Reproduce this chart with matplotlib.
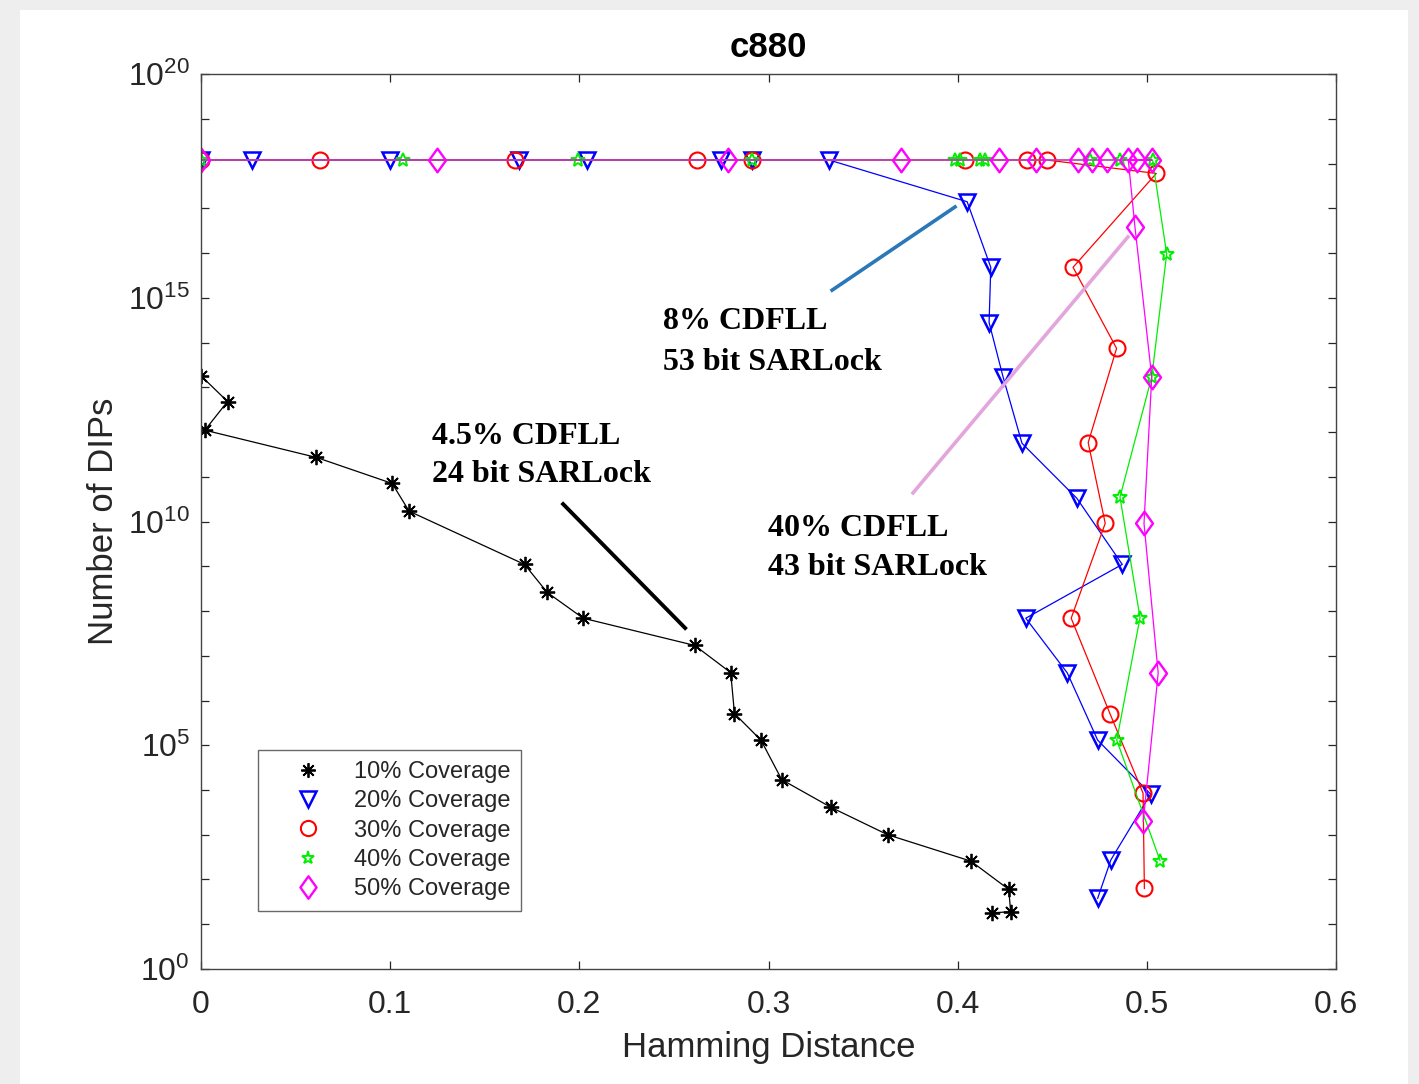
import matplotlib
matplotlib.use("Agg")
import matplotlib.pyplot as plt
from matplotlib.lines import Line2D
from matplotlib.patches import Rectangle
from matplotlib.path import Path

plt.rcParams['font.family'] = ['Liberation Sans', 'DejaVu Sans']
plt.rcParams['mathtext.default'] = 'regular'

# values (top row of each series sits at ~1.2e18)
x10 = [0.000, 0.014, 0.002, 0.061, 0.101, 0.110, 0.171, 0.183, 0.202, 0.261,
       0.280, 0.282, 0.296, 0.307, 0.333, 0.363, 0.407, 0.427, 0.428, 0.418]
y10 = [1.8e13, 4.8e12, 1.1e12, 2.7e11, 7.1e10, 1.7e10, 1.1e9, 2.6e8, 6.9e7, 1.7e7,
       4.2e6, 5.1e5, 1.3e5, 1.7e4, 4.1e3, 1.0e3, 257, 60, 19, 18]

x20 = [0.000, 0.027, 0.100, 0.168, 0.204, 0.275, 0.291, 0.332, 0.405, 0.4175,
       0.4166, 0.424, 0.434, 0.463, 0.487, 0.436, 0.458, 0.474, 0.502, 0.481, 0.474]
y20 = [1.2e18, 1.2e18, 1.2e18, 1.2e18, 1.2e18, 1.2e18, 1.2e18, 1.2e18, 1.4e17, 4.8e15,
       2.8e14, 1.7e13, 5.6e11, 3.3e10, 1.1e9, 6.9e7, 4.1e6, 1.3e5, 8.1e3, 275, 38]

x30 = [0.000, 0.063, 0.166, 0.262, 0.291, 0.404, 0.4365, 0.447, 0.505, 0.461,
       0.484, 0.469, 0.478, 0.460, 0.4805, 0.498, 0.4987]
y30 = [1.2e18, 1.2e18, 1.2e18, 1.2e18, 1.2e18, 1.2e18, 1.2e18, 1.2e18, 6.0e17, 4.8e15,
       7.4e13, 5.8e11, 9.1e9, 6.9e7, 5.1e5, 8.5e3, 63]

x40 = [0.000, 0.107, 0.1995, 0.291, 0.3986, 0.4012, 0.4118, 0.4144, 0.470, 0.486,
       0.503, 0.5105, 0.5026, 0.4858, 0.4964, 0.4841, 0.507]
y40 = [1.2e18, 1.2e18, 1.2e18, 1.2e18, 1.2e18, 1.2e18, 1.2e18, 1.2e18, 1.2e18, 1.2e18,
       1.2e18, 9.5e15, 1.7e13, 3.5e10, 7.1e7, 1.3e5, 263]

x50 = [0.000, 0.1246, 0.2788, 0.3699, 0.422, 0.4414, 0.4638, 0.4708, 0.4788, 0.5026,
       0.4946, 0.4902, 0.4937, 0.5026, 0.4985, 0.506, 0.4981]
y50 = [1.2e18, 1.2e18, 1.2e18, 1.2e18, 1.2e18, 1.2e18, 1.2e18, 1.2e18, 1.2e18, 1.2e18,
       1.2e18, 1.2e18, 3.9e16, 1.7e13, 9.1e9, 4.1e6, 2.0e3]

labels = ['10% Coverage', '20% Coverage', '30% Coverage', '40% Coverage', '50% Coverage']
xticks = [0, 0.1, 0.2, 0.3, 0.4, 0.5, 0.6]
xticklabels = ['0', '0.1', '0.2', '0.3', '0.4', '0.5', '0.6']

# MATLAB-like markers
asterisk = (8, 2, 0)
diamond = Path([(0, 1), (0.72, 0), (0, -1), (-0.72, 0), (0, 1)],
               [Path.MOVETO, Path.LINETO, Path.LINETO, Path.LINETO, Path.CLOSEPOLY])
styles = [
    dict(color='black', marker=asterisk, ms=11, mew=1.3),
    dict(color='#0000ff', marker='v', ms=12, mew=1.8, mfc='none'),
    dict(color='#ff0000', marker='o', ms=11.5, mew=1.5, mfc='none'),
    dict(color='#00ee00', marker='*', ms=10, mew=1.4, mfc='none'),
    dict(color='#ff00ff', marker=diamond, ms=17, mew=1.7, mfc='none'),
]
series = [(x10, y10), (x20, y20), (x30, y30), (x40, y40), (x50, y50)]

fig = plt.figure(figsize=(14.19, 10.84), dpi=100)
fig.patch.set_facecolor('#eeeeee')
fig.add_artist(Rectangle((20 / 1419, 0), 1388 / 1419, 1074 / 1084,
                         transform=fig.transFigure, facecolor='white',
                         edgecolor='none', zorder=-1))

ax = fig.add_axes([0.1417, 0.1061, 0.7998, 0.8256])

handles = []
for (xs, ys), st, lab in zip(series, styles, labels):
    ax.plot(xs, ys, color=st['color'], lw=0.9, marker=st['marker'],
            ms=st['ms'], mew=st['mew'], mfc=st.get('mfc', st['color']),
            mec=st['color'])
    handles.append(Line2D([], [], ls='none', color=st['color'], marker=st['marker'],
                          ms=st['ms'] * 0.95, mew=st['mew'],
                          mfc=st.get('mfc', st['color']), mec=st['color']))

ax.set_yscale('log')
ax.set_xlim(0, 0.6)
ax.set_ylim(1, 1e20)
ax.set_xticks(xticks)
ax.set_xticklabels(xticklabels)
ax.set_yticks([10.0 ** i for i in range(21)])
ax.set_yticklabels([('$10^{%d}$' % i) if i % 5 == 0 else '' for i in range(21)])
ax.minorticks_off()
ax.tick_params(direction='in', top=True, right=True, length=6, width=0.9,
               colors='#262626', labelsize=23, pad=8)
ax.tick_params(axis='x', pad=15)
for sp in ax.spines.values():
    sp.set_color('#444444')
    sp.set_linewidth(1.0)

ax.set_title('c880', fontsize=25, fontweight='bold', pad=12)
ax.set_xlabel('Hamming Distance', fontsize=25, color='#262626', labelpad=8)
ax.set_ylabel('Number of DIPs', fontsize=25, color='#262626', labelpad=6)

# annotation lines
ax.plot([0.3336, 0.3986], [10 ** 15.17, 10 ** 17.03], color='#2a78b8', lw=2.6)
ax.plot([0.3764, 0.490], [10 ** 10.64, 10 ** 16.36], color='#e3a6dc', lw=2.6)
ax.plot([0.1914, 0.2559], [10 ** 10.39, 10 ** 7.62], color='black', lw=2.8)

tfont = dict(family=['Liberation Serif', 'DejaVu Serif'], fontsize=23,
             fontweight='bold', va='center', ha='left')
ax.text(0.2442, 10 ** 14.46, '8% CDFLL', **tfont)
ax.text(0.2442, 10 ** 13.56, '53 bit SARLock', **tfont)
ax.text(0.1221, 10 ** 11.91, '4.5% CDFLL', **tfont)
ax.text(0.1221, 10 ** 11.04, '24 bit SARLock', **tfont)
ax.text(0.2997, 10 ** 9.855, '40% CDFLL', **tfont)
ax.text(0.2997, 10 ** 8.98, '43 bit SARLock', **tfont)

leg = ax.legend(handles, labels, loc='lower left', bbox_to_anchor=(0.0502, 0.0648),
                borderaxespad=0, fontsize=17, frameon=True, fancybox=False,
                handlelength=3.3, handletextpad=0.3, labelspacing=0.31,
                borderpad=0.45)
leg.get_frame().set_edgecolor('#444444')
leg.get_frame().set_linewidth(1.0)
for t in leg.get_texts():
    t.set_color('#262626')

fig.savefig('out.png', dpi=100, facecolor=fig.get_facecolor())
